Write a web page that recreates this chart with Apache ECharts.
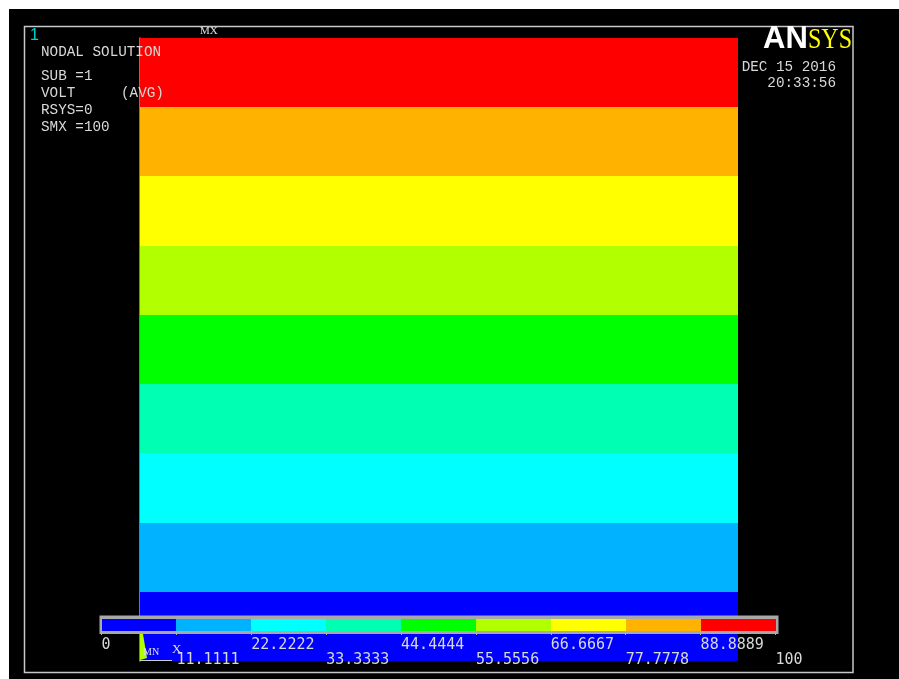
<!DOCTYPE html>
<html>
<head>
<meta charset="utf-8">
<script src="https://cdn.jsdelivr.net/npm/echarts@6/dist/echarts.min.js"></script>
<style>
html, body { margin: 0; padding: 0; background: #fff; }
#chart { width: 899px; height: 679px; }
</style>
</head>
<body>
<div id="chart"></div>
<script>
// contour levels of VOLT, bottom (0) to top (100)
var levels = [0, 11.1111, 22.2222, 33.3333, 44.4444, 55.5556, 66.6667, 77.7778, 88.8889, 100];
var tickLabels = ['0', '11.1111', '22.2222', '33.3333', '44.4444', '55.5556', '66.6667', '77.7778', '88.8889', '100'];
var bandColors = ['#0000ff', '#00b2ff', '#00ffff', '#00ffb2', '#00ff00', '#b2ff00', '#ffff00', '#ffb200', '#ff0000'];

var txtColor = '#d8d8d8';
var monoFont = '"Liberation Mono", monospace';

function buildBands() {
    var out = [];
    for (var i = 0; i < levels.length - 1; i++) {
        out.push([levels[i], levels[i + 1], i]);
    }
    return out;
}

function buildLegendCells() {
    var out = [];
    for (var i = 0; i < bandColors.length; i++) {
        out.push([i, i + 1, i]);
    }
    return out;
}

// snap to whole pixels so neighbouring bands don't leave seams
function snapRect(p1, p2, color) {
    var x1 = Math.round(p1[0]), y1 = Math.round(p1[1]);
    var x2 = Math.round(p2[0]), y2 = Math.round(p2[1]);
    return {
        type: 'rect',
        shape: { x: x1, y: y1, width: x2 - x1, height: y2 - y1 },
        style: { fill: color, stroke: null, lineWidth: 0 }
    };
}

function renderBand(params, api) {
    var p1 = api.coord([0, api.value(1)]);
    var p2 = api.coord([1, api.value(0)]);
    return snapRect(p1, p2, bandColors[api.value(2)]);
}

function renderCell(params, api) {
    var p1 = api.coord([api.value(0), 1]);
    var p2 = api.coord([api.value(1), 0]);
    return snapRect(p1, p2, bandColors[api.value(2)]);
}

function legendAxis(even, margin, showTick) {
    return {
        gridIndex: 1,
        type: 'value',
        min: 0,
        max: 9,
        interval: 1,
        position: 'bottom',
        z: 8,
        axisLine: { show: false },
        splitLine: { show: false },
        axisTick: { show: showTick, length: 4, lineStyle: { color: '#b0b0b0', width: 1 } },
        axisLabel: {
            show: true,
            showMinLabel: true,
            showMaxLabel: true,
            align: 'left',
            margin: margin,
            color: txtColor,
            fontFamily: '"DejaVu Sans Mono", monospace',
            fontSize: 15,
            formatter: function (v) {
                var i = Math.round(v);
                return (i % 2 === 0) === even ? tickLabels[i] : '';
            }
        }
    };
}

function infoText(str, x, y, extra) {
    var style = {
        text: str,
        fill: txtColor,
        font: '14.3px ' + monoFont,
        verticalAlign: 'middle'
    };
    if (extra) {
        for (var k in extra) style[k] = extra[k];
    }
    return { type: 'text', x: x, y: y, z: 20, silent: true, style: style };
}

var chart = echarts.init(document.getElementById('chart'));

var option = {
    backgroundColor: '#ffffff',
    animation: false,
    grid: [
        { left: 140, top: 38, width: 598, height: 623 },
        { left: 101.5, top: 619, width: 674, height: 12 }
    ],
    xAxis: [
        { gridIndex: 0, type: 'value', min: 0, max: 1, show: false },
        legendAxis(true, 7, true),
        legendAxis(false, 22, false)
    ],
    yAxis: [
        {
            gridIndex: 0, type: 'value', min: 0, max: 100, position: 'right',
            axisLine: { show: true, lineStyle: { color: '#a0a0a0', width: 1.5 } },
            axisTick: { show: false }, axisLabel: { show: false }, splitLine: { show: false }
        },
        { gridIndex: 1, type: 'value', min: 0, max: 1, show: false }
    ],
    series: [
        {
            type: 'custom',
            xAxisIndex: 0,
            yAxisIndex: 0,
            z: 2,
            renderItem: renderBand,
            data: buildBands()
        },
        {
            type: 'custom',
            xAxisIndex: 1,
            yAxisIndex: 1,
            z: 6,
            renderItem: renderCell,
            data: buildLegendCells()
        }
    ],
    graphic: {
        elements: [
            // black screen and white frame
            { type: 'rect', z: -10, silent: true, shape: { x: 9, y: 9, width: 890, height: 670 }, style: { fill: '#000' } },
            { type: 'rect', z: 1, silent: true, shape: { x: 24.5, y: 26.5, width: 828.5, height: 646 },
              style: { fill: 'none', stroke: '#c8c8c8', lineWidth: 1.5 } },
            // colour bar frame
            { type: 'rect', z: 4, silent: true, shape: { x: 99.5, y: 615.5, width: 679, height: 18.5 }, style: { fill: '#a8a8a8' } },
            // window number
            { type: 'text', x: 30, y: 36, z: 20, silent: true,
              style: { text: '1', fill: '#00d0d0', font: '16px "Liberation Sans", sans-serif', verticalAlign: 'middle' } },
            // MX marker
            { type: 'text', x: 200, y: 31, z: 20, silent: true,
              style: { text: 'MX', fill: '#e0e0e0', font: '11px "Liberation Serif", serif', verticalAlign: 'middle' } },
            infoText('NODAL SOLUTION', 41, 52),
            infoText('SUB =1', 41, 76),
            infoText('VOLT', 41, 93.5),
            infoText('(AVG)', 121, 93.5),
            infoText('RSYS=0', 41, 110.5),
            infoText('SMX =100', 41, 127),
            infoText('DEC 15 2016', 836, 67, { align: 'right' }),
            infoText('20:33:56', 836, 83, { align: 'right' }),
            // ANSYS logo
            { type: 'text', x: 763, y: 39, z: 20, silent: true,
              style: { text: 'AN', fill: '#ffffff', font: 'bold 31px "Liberation Sans", sans-serif', verticalAlign: 'middle' } },
            { type: 'text', x: 808, y: 40, z: 20, silent: true, scaleX: 0.8,
              style: { text: 'SYS', fill: '#ffff00', font: '30px "Liberation Serif", serif', verticalAlign: 'middle' } },
            // MN marker and triad
            { type: 'polygon', z: 7, silent: true,
              shape: { points: [[140, 634], [143, 634], [147, 658], [140, 660]] }, style: { fill: '#b2ff00' } },
            { type: 'line', z: 7, silent: true,
              shape: { x1: 140, y1: 660.5, x2: 172, y2: 660.5 }, style: { stroke: '#d0d0d0', lineWidth: 1 } },
            { type: 'text', x: 143, y: 652, z: 20, silent: true,
              style: { text: 'MN', fill: '#e0e0e0', font: '10px "Liberation Serif", serif', verticalAlign: 'middle' } },
            { type: 'text', x: 172, y: 649.5, z: 20, silent: true,
              style: { text: 'X', fill: '#e0e0e0', font: '13px "Liberation Serif", serif', verticalAlign: 'middle' } }
        ]
    }
};

chart.setOption(option);

window.addEventListener('resize', function () {
    chart.resize();
});
</script>
</body>
</html>
